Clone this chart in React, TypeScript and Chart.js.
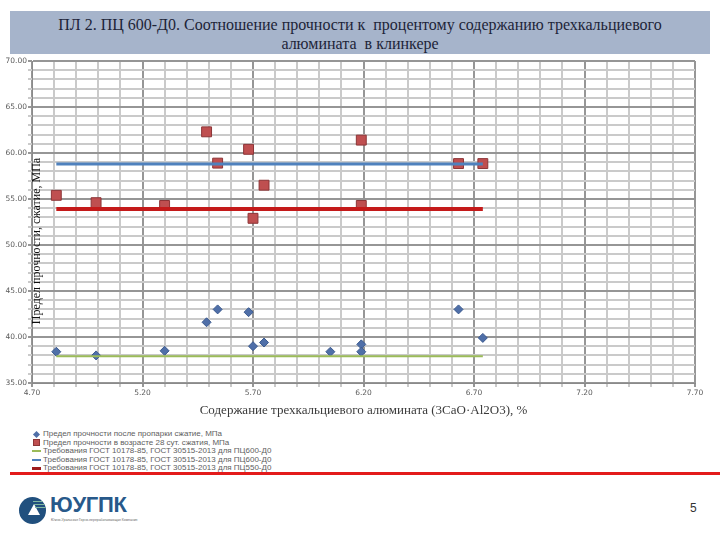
import React, { useEffect, useRef } from 'react';
import { Chart, registerables } from 'chart.js';

Chart.register(...registerables);

// ---- Texts ----
const TITLE_LINES = [
  'ПЛ 2. ПЦ 600-Д0. Соотношение прочности к  процентому содержанию трехкальциевого',
  'алюмината  в клинкере',
];
const X_TITLE = 'Содержание трехкальциевого алюмината (3СаО·Al2O3), %';
const Y_TITLE = 'Предел прочности, сжатие, МПа';
const LEGEND_LABELS = [
  'Предел прочности после пропарки сжатие, МПа',
  'Предел прочности в возрасте 28 сут. сжатия, МПа',
  'Требования ГОСТ 10178-85, ГОСТ 30515-2013 для ПЦ600-Д0',
  'Требования ГОСТ 10178-85, ГОСТ 30515-2013 для ПЦ600-Д0',
  'Требования ГОСТ 10178-85, ГОСТ 30515-2013 для ПЦ550-Д0',
];

// ---- Data ----
const steamX = [4.81, 4.99, 5.30, 5.49, 5.54, 5.68, 5.70, 5.75, 6.05, 6.19, 6.19, 6.63, 6.74];
const steamY = [38.4, 38.0, 38.5, 41.6, 43.0, 42.7, 39.0, 39.4, 38.4, 39.2, 38.4, 43.0, 39.9];

const age28X = [4.81, 4.99, 5.30, 5.49, 5.54, 5.68, 5.70, 5.75, 6.19, 6.19, 6.63, 6.74];
const age28Y = [55.4, 54.6, 54.3, 62.3, 58.9, 60.4, 52.9, 56.5, 61.4, 54.3, 58.85, 58.85];

const reqX = [4.81, 6.74];
const reqSteam600 = [37.9, 37.9];
const req28_600 = [58.8, 58.8];
const req28_550 = [53.9, 53.9];

// ---- Axes ----
const X_MIN = 4.7;
const X_MAX = 7.7;
const X_STEP = 0.1;
const xLabeledTicks = [4.7, 5.2, 5.7, 6.2, 6.7, 7.2, 7.7];
const Y_MIN = 35;
const Y_MAX = 70;
const Y_STEP = 1;
const yLabeledTicks = [35, 40, 45, 50, 55, 60, 65, 70];

const COLORS = {
  steam: '#4f6fa8',
  steamBorder: '#3b5a8f',
  age28: '#bf4f50',
  age28Border: '#8c3537',
  green: '#9bbb59',
  blue: '#4f81bd',
  red: '#c41a1a',
  gridMinor: '#cacaca',
  gridMajor: '#969696',
};

const zip = (xs: number[], ys: number[]) => xs.map((x, i) => ({ x, y: ys[i] }));

const buildTicks = (min: number, max: number, step: number) => {
  const n = Math.round((max - min) / step);
  const out: { value: number }[] = [];
  for (let i = 0; i <= n; i++) out.push({ value: Math.round((min + i * step) * 1000) / 1000 });
  return out;
};

const isLabeled = (list: number[], v: number) => list.some((t) => Math.abs(t - v) < 1e-6);

const innerYTitle = {
  id: 'innerYTitle',
  afterDraw(chart: any) {
    const { ctx, chartArea } = chart;
    ctx.save();
    ctx.translate(chartArea.left + 5, chartArea.top + 180);
    ctx.rotate(-Math.PI / 2);
    ctx.font = '12px "Liberation Serif", serif';
    ctx.fillStyle = '#0f0f0f';
    ctx.textAlign = 'center';
    ctx.textBaseline = 'middle';
    ctx.fillText(Y_TITLE, 0, 0);
    ctx.restore();
  },
};

function ChartView() {
  const ref = useRef<HTMLCanvasElement | null>(null);
  useEffect(() => {
    if (!ref.current) return;
    const tickFont = { family: '"DejaVu Sans", sans-serif', size: 7.5 };
    const chart = new Chart(ref.current, {
      type: 'scatter',
      data: {
        datasets: [
          {
            type: 'line',
            label: LEGEND_LABELS[2],
            data: zip(reqX, reqSteam600),
            borderColor: COLORS.green,
            borderWidth: 2,
            pointRadius: 0,
            order: 0,
          },
          {
            type: 'line',
            label: LEGEND_LABELS[3],
            data: zip(reqX, req28_600),
            borderColor: COLORS.blue,
            borderWidth: 3,
            pointRadius: 0,
            order: 0,
          },
          {
            type: 'line',
            label: LEGEND_LABELS[4],
            data: zip(reqX, req28_550),
            borderColor: COLORS.red,
            borderWidth: 4,
            pointRadius: 0,
            order: 0,
          },
          {
            label: LEGEND_LABELS[0],
            data: zip(steamX, steamY),
            pointStyle: 'rectRot',
            pointRadius: 4.5,
            backgroundColor: COLORS.steam,
            borderColor: COLORS.steamBorder,
            borderWidth: 1,
            order: 1,
          },
          {
            label: LEGEND_LABELS[1],
            data: zip(age28X, age28Y),
            pointStyle: 'rect',
            pointRadius: 7,
            backgroundColor: COLORS.age28,
            borderColor: COLORS.age28Border,
            borderWidth: 1,
            order: 1,
          },
        ] as any,
      },
      options: {
        animation: false,
        responsive: false,
        maintainAspectRatio: false,
        layout: { padding: { top: 11, right: 25, bottom: 0, left: 0 } },
        plugins: {
          legend: { display: false },
          tooltip: { enabled: false },
          title: { display: false },
        },
        scales: {
          x: {
            type: 'linear',
            min: X_MIN,
            max: X_MAX,
            afterBuildTicks: (scale: any) => {
              scale.ticks = buildTicks(X_MIN, X_MAX, X_STEP);
            },
            afterFit: (scale: any) => {
              scale.height = 35;
            },
            ticks: {
              autoSkip: false,
              maxRotation: 0,
              padding: 2,
              color: '#5a5a5a',
              font: tickFont,
              callback: (v: any) => (isLabeled(xLabeledTicks, Number(v)) ? Number(v).toFixed(2) : ''),
            },
            grid: {
              lineWidth: 2,
              tickLength: 4,
              color: (ctx: any) =>
                ctx.tick && isLabeled(xLabeledTicks, ctx.tick.value) ? COLORS.gridMajor : COLORS.gridMinor,
            },
            border: { color: '#8a8a8a', width: 1 },
            title: {
              display: true,
              text: X_TITLE,
              color: '#3a3a3a',
              font: { family: '"Liberation Serif", serif', size: 13 },
              padding: { top: 0, bottom: 0 },
            },
          },
          y: {
            type: 'linear',
            min: Y_MIN,
            max: Y_MAX,
            afterBuildTicks: (scale: any) => {
              scale.ticks = buildTicks(Y_MIN, Y_MAX, Y_STEP);
            },
            afterFit: (scale: any) => {
              scale.width = 32;
            },
            ticks: {
              autoSkip: false,
              padding: 1,
              color: '#5a5a5a',
              font: tickFont,
              callback: (v: any) => (isLabeled(yLabeledTicks, Number(v)) ? Number(v).toFixed(2) : ''),
            },
            grid: {
              lineWidth: 2,
              tickLength: 4,
              color: (ctx: any) =>
                ctx.tick && isLabeled(yLabeledTicks, ctx.tick.value) ? COLORS.gridMajor : COLORS.gridMinor,
            },
            border: { color: '#8a8a8a', width: 1 },
          },
        },
      },
      plugins: [innerYTitle],
    });
    return () => chart.destroy();
  }, []);
  return <canvas ref={ref} width={720} height={368} style={{ position: 'absolute', left: 0, top: 50, width: 720, height: 368 }} />;
}

const legendMarkers = [
  <span key="m0" style={{ display: 'inline-block', width: 5, height: 5, background: COLORS.steam, transform: 'rotate(45deg)', margin: '0 2px' }} />,
  <span key="m1" style={{ display: 'inline-block', width: 7, height: 7, background: COLORS.age28, border: `1px solid ${COLORS.age28Border}`, boxSizing: 'border-box' }} />,
  <span key="m2" style={{ display: 'inline-block', width: 9, height: 2, background: COLORS.green }} />,
  <span key="m3" style={{ display: 'inline-block', width: 9, height: 1.5, background: COLORS.blue }} />,
  <span key="m4" style={{ display: 'inline-block', width: 9, height: 2.5, background: '#9e1c1c' }} />,
];

export default function App() {
  return (
    <div style={{ position: 'absolute', left: 0, top: 0, width: 720, height: 540, background: '#fff', overflow: 'hidden', fontFamily: '"Liberation Sans", Arial, sans-serif' }}>
      <div
        style={{
          position: 'absolute',
          left: 10,
          top: 11,
          width: 700,
          height: 43,
          background: '#a6b4cb',
          color: '#1d2438',
          fontFamily: '"Liberation Serif", serif',
          fontSize: 16,
          lineHeight: '19px',
          textAlign: 'center',
          paddingTop: 4,
          boxSizing: 'border-box',
        }}
      >
        {TITLE_LINES.map((t, i) => (
          <div key={i} style={{ whiteSpace: 'pre' }}>{t}</div>
        ))}
      </div>
      <ChartView />
      <div style={{ position: 'absolute', left: 31, top: 430, fontSize: 8, lineHeight: '8.6px', color: '#5e5e5e' }}>
        {LEGEND_LABELS.map((l, i) => (
          <div key={i} style={{ display: 'flex', alignItems: 'center', height: 8.6, whiteSpace: 'nowrap' }}>
            <span style={{ width: 11, display: 'inline-flex', justifyContent: 'center', alignItems: 'center' }}>{legendMarkers[i]}</span>
            <span style={{ marginLeft: 1 }}>{l}</span>
          </div>
        ))}
      </div>
      <div style={{ position: 'absolute', left: 10, top: 472, width: 710, height: 2.5, background: '#e31b1b' }} />
      {/* logo */}
      <div style={{ position: 'absolute', left: 19, top: 497, width: 27, height: 27, borderRadius: '50%', background: '#21507e', overflow: 'hidden' }}>
        <div style={{ position: 'absolute', left: 9, top: 7, width: 0, height: 0, borderLeft: '6px solid transparent', borderRight: '6px solid transparent', borderBottom: '11px solid #fff' }} />
        <div style={{ position: 'absolute', left: 14, top: 4, width: 11, height: 1, background: '#7fb7a0' }} />
        <div style={{ position: 'absolute', left: 15, top: 7, width: 11, height: 1, background: '#7fb7a0' }} />
        <div style={{ position: 'absolute', left: 16, top: 10, width: 11, height: 1, background: '#7fb7a0' }} />
      </div>
      <div style={{ position: 'absolute', left: 50, top: 492, fontSize: 22, fontWeight: 'bold', color: '#28598a', letterSpacing: -0.3 }}>ЮУГПК</div>
      <div style={{ position: 'absolute', left: 51, top: 518, fontSize: 3.4, color: '#666', whiteSpace: 'nowrap' }}>Южно-Уральская Горно-перерабатывающая Компания</div>
      <div style={{ position: 'absolute', left: 690, top: 501, fontSize: 12, color: '#333' }}>5</div>
    </div>
  );
}
